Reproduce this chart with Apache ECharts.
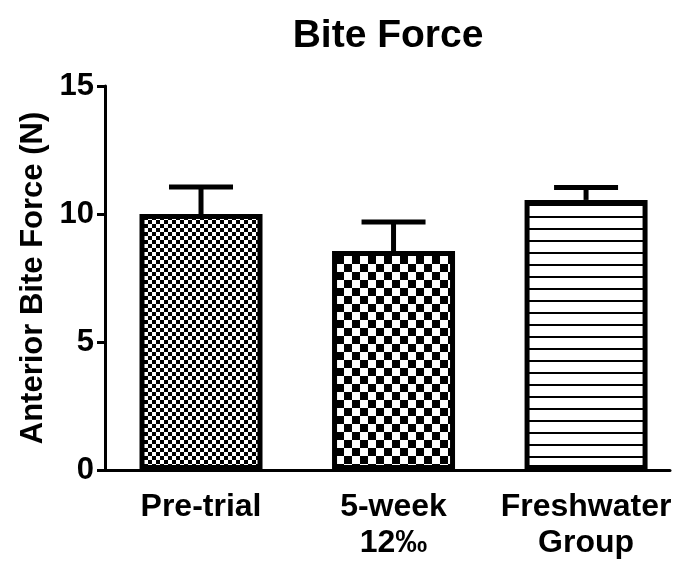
<!DOCTYPE html>
<html>
<head>
<meta charset="utf-8">
<script src="https://cdn.jsdelivr.net/npm/echarts@6/dist/echarts.min.js"></script>
<style>html,body{margin:0;padding:0;background:#fff;}#c{width:678px;height:562px;}</style>
</head>
<body>
<div id="c"></div>
<script>
const categories = ['Pre-trial', '5-week\n12\u2030', 'Freshwater\nGroup'];
const means = [10.0, 8.55, 10.55];
const upper = [11.05, 9.69, 11.04];
const yTicks = [0, 5, 10, 15];

function checker(cell) {
  const c = document.createElement('canvas');
  c.width = cell * 2; c.height = cell * 2;
  const g = c.getContext('2d');
  g.fillStyle = '#fff'; g.fillRect(0, 0, c.width, c.height);
  g.fillStyle = '#000';
  g.fillRect(0, 0, cell, cell);
  g.fillRect(cell, cell, cell, cell);
  return c;
}
function hlines(step, w) {
  const c = document.createElement('canvas');
  c.width = 8; c.height = step;
  const g = c.getContext('2d');
  g.fillStyle = '#fff'; g.fillRect(0, 0, c.width, c.height);
  g.fillStyle = '#000';
  g.fillRect(0, 0, c.width, w);
  return c;
}
const patterns = [checker(4), checker(8), hlines(12, 2)];

const FONT = 'Liberation Sans';
const chart = echarts.init(document.getElementById('c'), null, {renderer: 'canvas'});
chart.setOption({
  animation: false,
  backgroundColor: '#fff',
  title: {
    text: 'Bite Force',
    left: 383, top: 12, textAlign: 'center',
    textStyle: {fontFamily: FONT, fontWeight: 'bold', fontSize: 39, color: '#000'}
  },
  grid: {left: 105, right: 8, top: 86, bottom: 92, containLabel: false},
  xAxis: {
    type: 'value', min: -0.4987, max: 2.436,
    splitLine: {show: false},
    axisTick: {show: false},
    axisLine: {show: true, onZero: false, lineStyle: {color: '#000', width: 3}},
    axisLabel: {
      customValues: [0, 1, 2],
      formatter: v => categories[Math.round(v)],
      margin: 19, color: '#000', fontFamily: FONT, fontWeight: 'bold', fontSize: 32, lineHeight: 36,
      align: 'center'
    }
  },
  yAxis: {
    type: 'value', min: 0, max: 15, interval: 5,
    name: 'Anterior Bite Force (N)', nameLocation: 'middle', nameRotate: 90, nameGap: 53,
    nameTextStyle: {fontFamily: FONT, fontWeight: 'bold', fontSize: 31, color: '#000'},
    splitLine: {show: false},
    axisLine: {show: true, onZero: false, lineStyle: {color: '#000', width: 3}},
    axisTick: {show: true, length: 8, lineStyle: {color: '#000', width: 3}},
    axisLabel: {margin: 11, color: '#000', fontFamily: FONT, fontWeight: 'bold', fontSize: 31}
  },
  series: [
    {
      type: 'custom',
      z: 1,
      renderItem: function (params, api) {
        const x = api.value(0);
        const p0 = api.coord([x, api.value(1)]);
        const p1 = api.coord([x, api.value(2)]);
        return {
          type: 'group',
          children: [
            {type: 'line', shape: {x1: p0[0], y1: p0[1], x2: p1[0], y2: p1[1]}, style: {stroke: '#000', lineWidth: 5}},
            {type: 'line', shape: {x1: p1[0] - 32, y1: p1[1], x2: p1[0] + 32, y2: p1[1]}, style: {stroke: '#000', lineWidth: 5}}
          ]
        };
      },
      data: means.map((m, i) => [i, m, upper[i]])
    },
    {
      type: 'bar',
      z: 2,
      barWidth: 123,
      data: means.map((m, i) => ({
        value: [i, m],
        itemStyle: {color: {image: patterns[i], repeat: 'repeat'}, borderColor: '#000', borderWidth: 5}
      }))
    }
  ]
});
</script>
</body>
</html>
